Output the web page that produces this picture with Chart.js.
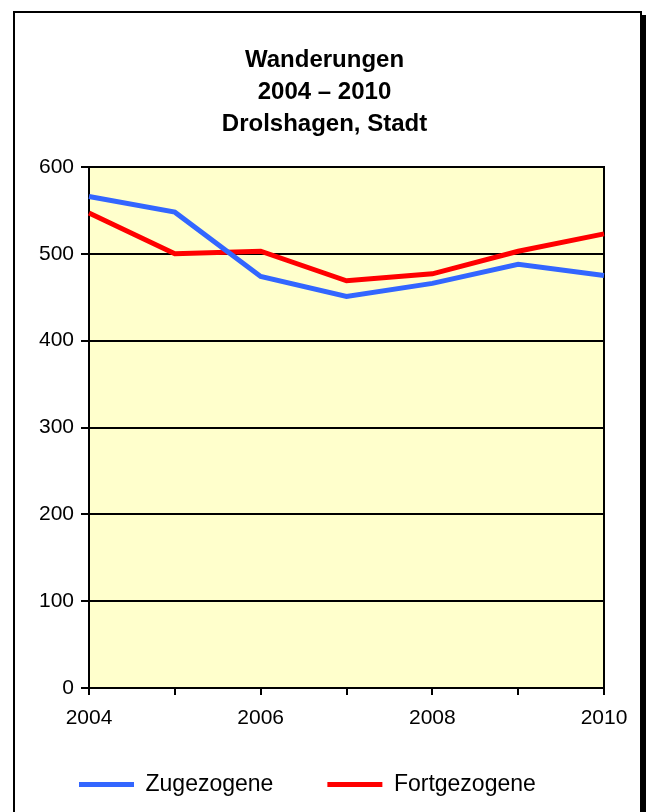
<!DOCTYPE html>
<html lang="de">
<head>
<meta charset="utf-8">
<title>Wanderungen 2004 – 2010 Drolshagen, Stadt</title>
<script src="https://cdn.jsdelivr.net/npm/chart.js@4/dist/chart.umd.min.js"></script>
<style>
  html, body { margin: 0; padding: 0; background: #fff; overflow: hidden; }
  .frame {
    position: absolute; left: 13px; top: 11px;
    width: 629px; height: 900px; box-sizing: border-box;
    border: 2px solid #000; box-shadow: 4px 4px 0 #000; background: #fff;
  }
  #chart { position: absolute; left: 0; top: 0; }
</style>
</head>
<body>
<div class="frame"></div>
<canvas id="chart" width="646" height="812"></canvas>
<script>
const years = ['2004', '2005', '2006', '2007', '2008', '2009', '2010'];
const xTickLabels = ['2004', '', '2006', '', '2008', '', '2010'];
const zugezogene = [566, 548, 474, 451, 466, 488, 475];
const fortgezogene = [547, 500, 503, 469, 477, 503, 523];
const titleLines = ['Wanderungen', '2004 – 2010', 'Drolshagen, Stadt'];

const FONT = 'Arial, "Liberation Sans", sans-serif';

// yellow plot background and the frame round the plot
const plotArea = {
    id: 'plotArea',
    afterLayout(chart) {
        // the x axis box is kept short so the legend sits close; let its labels hang below it
        const x = chart.scales.x;
        x.bottom = x.top + 60;
    },
    beforeDraw(chart) {
        const { ctx, chartArea: a } = chart;
        ctx.save();
        ctx.fillStyle = '#FFFFCC';
        ctx.fillRect(a.left, a.top, a.right - a.left, a.bottom - a.top);
        ctx.restore();
    },
    beforeDatasetsDraw(chart) {
        const { ctx, chartArea: a } = chart;
        ctx.save();
        ctx.strokeStyle = '#000';
        ctx.lineWidth = 2;
        ctx.strokeRect(a.left, a.top, a.right - a.left, a.bottom - a.top);
        ctx.restore();
    }
};

new Chart(document.getElementById('chart'), {
    type: 'line',
    data: {
        labels: years,
        datasets: [
            {
                label: 'Zugezogene',
                data: zugezogene,
                borderColor: '#3366FF',
                backgroundColor: '#3366FF',
                borderWidth: 5,
                pointRadius: 0,
                tension: 0
            },
            {
                label: 'Fortgezogene',
                data: fortgezogene,
                borderColor: '#FF0000',
                backgroundColor: '#FF0000',
                borderWidth: 5,
                pointRadius: 0,
                tension: 0
            }
        ]
    },
    options: {
        responsive: false,
        animation: false,
        layout: { padding: { left: 25, right: 22, top: 0, bottom: 6 } },
        plugins: {
            title: {
                display: true,
                text: titleLines,
                color: '#000',
                font: { family: FONT, size: 24, weight: 'bold', lineHeight: '32px' },
                padding: { top: 44, bottom: 27 }
            },
            legend: {
                position: 'bottom',
                align: 'start',
                labels: {
                    color: '#000',
                    font: { family: FONT, size: 23 },
                    boxWidth: 55,
                    boxHeight: 5,
                    padding: 54,
                    generateLabels(chart) {
                        return Chart.defaults.plugins.legend.labels.generateLabels(chart)
                            .map(item => ({ ...item, lineWidth: 0 }));
                    }
                }
            },
            tooltip: { enabled: false }
        },
        scales: {
            x: {
                offset: false,
                grid: { display: true, drawOnChartArea: false, drawTicks: true, tickLength: 7, color: '#000', lineWidth: 2 },
                border: { display: true, color: '#000', width: 2 },
                ticks: {
                    autoSkip: false,
                    maxRotation: 0,
                    padding: 11,
                    color: '#000',
                    font: { family: FONT, size: 21 },
                    callback: (value, index) => xTickLabels[index]
                },
                afterFit(scale) {
                    scale.height = 31;
                    scale.paddingRight = 42;
                }
            },
            y: {
                min: 0,
                max: 600,
                grid: { color: '#000', lineWidth: 2, tickLength: 8 },
                border: { display: true, color: '#000', width: 2 },
                ticks: {
                    stepSize: 100,
                    padding: 7,
                    color: '#000',
                    font: { family: FONT, size: 21 }
                },
                afterFit(scale) {
                    scale.width = 64;
                }
            }
        }
    },
    plugins: [plotArea]
});
</script>
</body>
</html>
